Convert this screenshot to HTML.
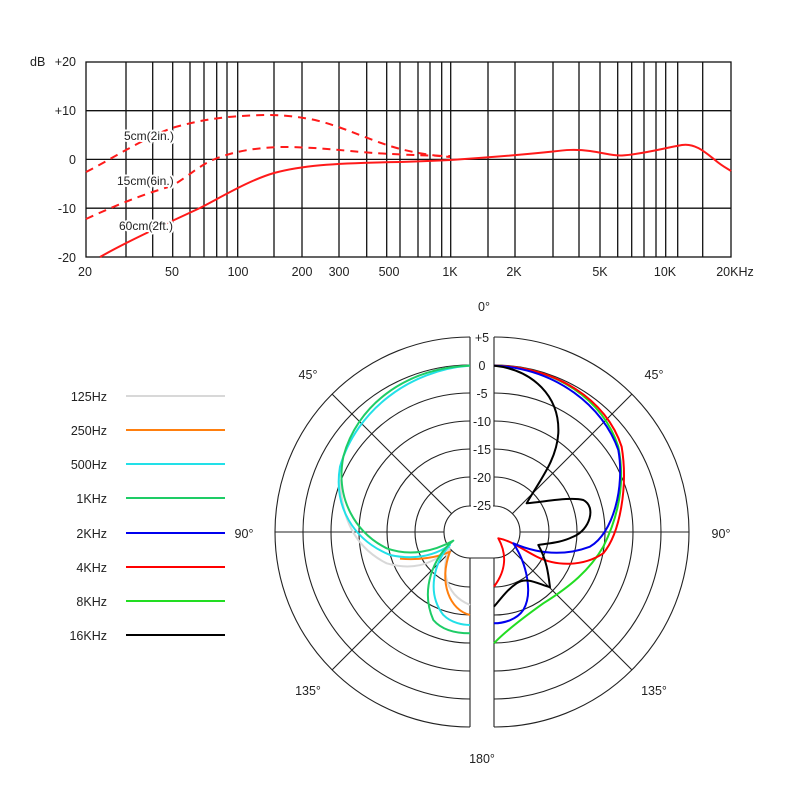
<!DOCTYPE html>
<html><head><meta charset="utf-8"><style>
html,body{margin:0;padding:0;background:#fff;}
svg{display:block;font-family:"Liberation Sans",sans-serif;}
</style></head><body>
<svg width="800" height="800" viewBox="0 0 800 800" xmlns="http://www.w3.org/2000/svg">
<rect width="800" height="800" fill="#fff"/>
<g stroke="#111" stroke-width="1.3" fill="none">
<rect x="86" y="62" width="645" height="195"/>
<line x1="86" y1="110.7" x2="731" y2="110.7"/>
<line x1="86" y1="159.4" x2="731" y2="159.4"/>
<line x1="86" y1="208.2" x2="731" y2="208.2"/>
<line x1="126" y1="62" x2="126" y2="257"/><line x1="152.7" y1="62" x2="152.7" y2="257"/>
<line x1="172.7" y1="62" x2="172.7" y2="257"/><line x1="190" y1="62" x2="190" y2="257"/>
<line x1="204" y1="62" x2="204" y2="257"/><line x1="216.7" y1="62" x2="216.7" y2="257"/>
<line x1="227" y1="62" x2="227" y2="257"/><line x1="237.7" y1="62" x2="237.7" y2="257"/>
<line x1="274" y1="62" x2="274" y2="257"/><line x1="302" y1="62" x2="302" y2="257"/>
<line x1="339" y1="62" x2="339" y2="257"/><line x1="366.7" y1="62" x2="366.7" y2="257"/>
<line x1="386.7" y1="62" x2="386.7" y2="257"/><line x1="400" y1="62" x2="400" y2="257"/>
<line x1="418" y1="62" x2="418" y2="257"/><line x1="430" y1="62" x2="430" y2="257"/>
<line x1="441.7" y1="62" x2="441.7" y2="257"/><line x1="450.7" y1="62" x2="450.7" y2="257"/>
<line x1="488" y1="62" x2="488" y2="257"/><line x1="515" y1="62" x2="515" y2="257"/>
<line x1="553" y1="62" x2="553" y2="257"/><line x1="579" y1="62" x2="579" y2="257"/>
<line x1="600" y1="62" x2="600" y2="257"/><line x1="617.7" y1="62" x2="617.7" y2="257"/>
<line x1="631.7" y1="62" x2="631.7" y2="257"/><line x1="644" y1="62" x2="644" y2="257"/>
<line x1="656" y1="62" x2="656" y2="257"/><line x1="665.7" y1="62" x2="665.7" y2="257"/>
<line x1="677.7" y1="62" x2="677.7" y2="257"/><line x1="702.7" y1="62" x2="702.7" y2="257"/>
</g>
<g stroke="#ff1a1a" stroke-width="2" fill="none" stroke-linejoin="round">
<path d="M100,257 C130,240 170,222 200,208 C225,195 250,180 274,173 C300,166 330,163 400,162 C430,161 440,160.5 450,160 C480,158 520,155 553,151.5 C565,150 575,149 590,151 C605,153 612,156 622,155.5 C640,154.5 660,149 682,145 C695,143 705,152 715,160 C722,166 728,169 731,171"/>
<path stroke-dasharray="8,6" d="M86,172 C110,160 140,140 172,128 C200,120 220,117 250,115.5 C275,114 295,116 315,120 C340,126 360,136 387,145 C405,151 425,155 450,157"/>
<path stroke-dasharray="8,6" d="M86,219 C110,208 140,195 172,186 C190,175 200,165 215,159 C235,151 255,148 280,147 C300,147 320,148 350,151 C380,154 420,155.5 450,156"/>
</g>
<g font-size="12" fill="#222" stroke="#fff" stroke-width="4" paint-order="stroke" stroke-linejoin="round">
<text x="124" y="140">5cm(2in.)</text>
<text x="117" y="185">15cm(6in.)</text>
<text x="119" y="230">60cm(2ft.)</text>
</g>
<g font-size="12.5" fill="#222">
<text x="30" y="66">dB</text>
<text x="76" y="66" text-anchor="end">+20</text>
<text x="76" y="115" text-anchor="end">+10</text>
<text x="76" y="164" text-anchor="end">0</text>
<text x="76" y="213" text-anchor="end">-10</text>
<text x="76" y="262" text-anchor="end">-20</text>
<g text-anchor="middle">
<text x="85" y="276">20</text><text x="172" y="276">50</text><text x="238" y="276">100</text>
<text x="302" y="276">200</text><text x="339" y="276">300</text><text x="389" y="276">500</text>
<text x="450" y="276">1K</text><text x="514" y="276">2K</text><text x="600" y="276">5K</text>
<text x="665" y="276">10K</text><text x="735" y="276">20KHz</text>
</g>
</g>
<g stroke="#222" stroke-width="1.1" fill="none">
<path d="M470,337 A195,195 0 0 0 470,727 M494,337 A195,195 0 0 1 494,727"/>
<path d="M470,365 A167,167 0 0 0 470,699 M494,365 A167,167 0 0 1 494,699"/>
<path d="M470,393 A139,139 0 0 0 470,671 M494,393 A139,139 0 0 1 494,671"/>
<path d="M470,421 A111,111 0 0 0 470,643 M494,421 A111,111 0 0 1 494,643"/>
<path d="M470,449 A83,83 0 0 0 470,615 M494,449 A83,83 0 0 1 494,615"/>
<path d="M470,477 A55,55 0 0 0 470,587 M494,477 A55,55 0 0 1 494,587"/>
<path d="M470,506 A26,26 0 0 0 470,558 L494,558 A26,26 0 0 0 494,506 Z"/>
<line x1="275" y1="532" x2="444" y2="532"/><line x1="520" y1="532" x2="689" y2="532"/>
<line x1="451.6" y1="513.6" x2="332.1" y2="394.1"/><line x1="451.6" y1="550.4" x2="332.1" y2="669.9"/>
<line x1="512.4" y1="513.6" x2="631.9" y2="394.1"/><line x1="512.4" y1="550.4" x2="631.9" y2="669.9"/>
<line x1="470" y1="337" x2="470" y2="506"/><line x1="494" y1="337" x2="494" y2="506"/>
<line x1="470" y1="558" x2="470" y2="727"/><line x1="494" y1="558" x2="494" y2="727"/>
</g>
<g font-size="12.5" fill="#222" text-anchor="middle">
<g fill="#fff" stroke="none">
<rect x="471" y="329" width="22" height="15"/><rect x="471" y="357" width="22" height="15"/>
<rect x="471" y="385" width="22" height="15"/><rect x="471" y="413" width="22" height="15"/>
<rect x="471" y="441" width="22" height="15"/><rect x="471" y="469" width="22" height="15"/>
<rect x="471" y="497" width="22" height="15"/>
</g>
<text x="482" y="342">+5</text><text x="482" y="370">0</text><text x="482" y="398">-5</text>
<text x="482" y="426">-10</text><text x="482" y="454">-15</text><text x="482" y="482">-20</text>
<text x="482" y="510">-25</text>
<text x="484" y="311">0°</text>
<text x="308" y="379">45°</text><text x="654" y="379">45°</text>
<text x="244" y="538">90°</text><text x="721" y="538">90°</text>
<text x="308" y="695">135°</text><text x="654" y="695">135°</text>
<text x="482" y="763">180°</text>
</g>
<g transform="translate(270,300) scale(0.3333)" fill="none" stroke-width="6" stroke-linejoin="round">
<path stroke="#d8d8d8" d="M210,540 C215,650 250,740 350,790 C420,810 480,800 540,745 C515,790 515,880 600,915"/>
<path stroke="#ff7f0e" d="M600,945 C540,930 505,850 540,755 C500,775 440,780 390,776"/>
<path stroke="#22e0e8" d="M600,197 C420,210 260,330 210,500 C190,620 250,720 360,765 C430,780 490,770 540,735 C490,790 470,880 520,945 C545,970 580,975 600,975"/>
<path stroke="#1ecc66" d="M600,197 C400,205 260,320 220,470 C195,600 260,700 350,745 C420,770 490,755 550,722 C490,770 450,870 490,960 C520,995 570,1000 600,1000"/>
<path stroke="#22dd22" d="M672,197 C860,200 1000,300 1045,440 C1065,540 1050,640 1000,740 C960,810 900,860 820,910 C750,960 700,1000 672,1030"/>
<path stroke="#ff0000" d="M672,197 C860,200 1010,300 1055,440 C1075,560 1050,700 1000,760 C940,800 860,800 800,770 C760,750 720,720 685,715 C710,760 710,810 672,860"/>
<path stroke="#0000ee" d="M672,197 C860,205 1000,320 1045,450 C1065,560 1030,700 960,740 C880,770 800,760 730,730 C770,790 790,880 760,930 C740,960 700,970 672,970"/>
<path stroke="#000" d="M672,197 C790,210 870,290 865,400 C860,480 810,540 770,610 C830,605 900,590 940,600 C980,620 960,690 910,710 C870,730 830,730 805,735 C830,780 835,820 840,862 C800,850 770,830 740,850 C710,870 690,900 672,920"/>
</g>
<g font-size="12.5" fill="#222" text-anchor="end">
<text x="107" y="401">125Hz</text><text x="107" y="435">250Hz</text><text x="107" y="469">500Hz</text>
<text x="107" y="503">1KHz</text><text x="107" y="538">2KHz</text><text x="107" y="572">4KHz</text>
<text x="107" y="606">8KHz</text><text x="107" y="640">16KHz</text>
</g>
<g stroke-width="2">
<line x1="126" y1="396" x2="225" y2="396" stroke="#d8d8d8"/>
<line x1="126" y1="430" x2="225" y2="430" stroke="#ff7f0e"/>
<line x1="126" y1="464" x2="225" y2="464" stroke="#22e0e8"/>
<line x1="126" y1="498" x2="225" y2="498" stroke="#1ecc66"/>
<line x1="126" y1="533" x2="225" y2="533" stroke="#0000ee"/>
<line x1="126" y1="567" x2="225" y2="567" stroke="#ff0000"/>
<line x1="126" y1="601" x2="225" y2="601" stroke="#22dd22"/>
<line x1="126" y1="635" x2="225" y2="635" stroke="#000"/>
</g>
</svg>
</body></html>
